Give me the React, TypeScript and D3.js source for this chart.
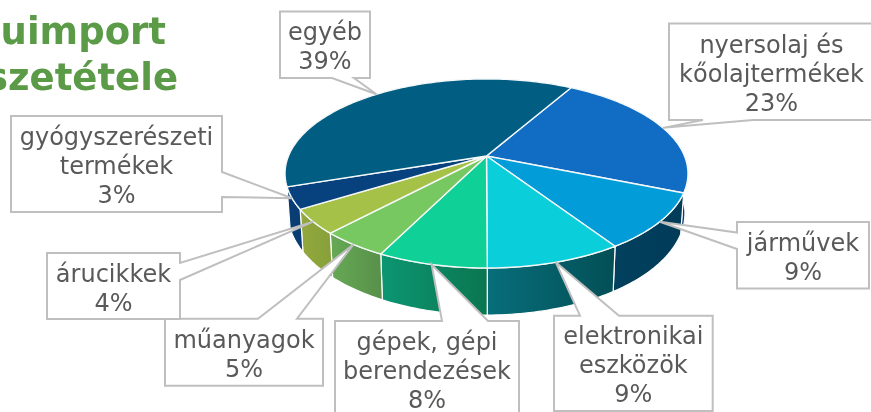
import React from "react";
import * as d3 from "d3";

// Data
const categories = ["nyersolaj és|kőolajtermékek", "járművek", "elektronikai|eszközök", "gépek, gépi|berendezések", "műanyagok", "árucikkek", "gyógyszerészeti|termékek", "egyéb"];
const shareEstimates = [22.9, 9.6, 9.2, 7.4, 4.6, 4.2, 3.7, 38.4];
const percentLabels = ["23%", "9%", "9%", "8%", "5%", "4%", "3%", "39%"];
const topColors = ["#116CC4", "#029DD8", "#0ACFDA", "#0FD096", "#78C862", "#A6C148", "#08427E", "#025D82"];
const wallFrom = ["#0A3F78", "#01405E", "#076E7A", "#0C9672", "#66A955", "#93A83E", "#0A3D74", "#003A58"];
const wallTo = ["#0A3F78", "#013C58", "#034F56", "#0A7650", "#58904A", "#87A03A", "#0A3D74", "#003A58"];
const titleLines = ["uimport", "szetétele"];

// Layout of the callouts: box edges, side of the pointer and its two foot positions
const calloutLayout = [
  { l: 669, t: 23.5, r: 874, b: 120, side: "bottom", a: 703, c: 753 },
  { l: 737, t: 222, r: 869, b: 288.5, side: "left", a: 232.5, c: 249 },
  { l: 554, t: 315.7, r: 712.7, b: 411, side: "top", a: 580, c: 619 },
  { l: 335, t: 321, r: 519, b: 417, side: "top", a: 442, c: 488 },
  { l: 165, t: 318.7, r: 323, b: 385.7, side: "top", a: 258, c: 297 },
  { l: 47, t: 253, r: 180, b: 319, side: "right", a: 263, c: 280 },
  { l: 11, t: 116, r: 222, b: 212, side: "right", a: 172, c: 197 },
  { l: 280, t: 11.5, r: 370, b: 78, side: "bottom", a: 332, c: 354 },
];

const W = 871, H = 412;
const CX = 486.5, CY = 156, R = 198, B = 91.3, K = 0.185, DEPTH = 38.3, SHRINK = 0.985;
const START = (29.7 * Math.PI) / 180;

function project(t: number, drop = 0): [number, number] {
  const x = Math.sin(t), y = -Math.cos(t), w = 1 - K * y;
  return [CX + ((R * x) / w) * (drop ? SHRINK : 1), CY + (B * y + drop) / w];
}

const line = d3.line();
const samples = (a: number, b: number) => {
  const n = Math.max(2, Math.ceil((b - a) / 0.02));
  return d3.range(n + 1).map((i) => a + ((b - a) * i) / n);
};

function calloutPath(c: (typeof calloutLayout)[number], tip: [number, number]) {
  const pts: [number, number][] = [[c.l, c.t]];
  pts.push([c.r, c.t]);
  if (c.side === "right") pts.push([c.r, c.a], tip, [c.r, c.c]);
  pts.push([c.r, c.b]);
  if (c.side === "bottom") pts.push([c.c, c.b], tip, [c.a, c.b]);
  pts.push([c.l, c.b]);
  if (c.side === "left") pts.push([c.l, c.c], tip, [c.l, c.a]);
  if (c.side === "top") {
    return line([[c.l, c.b], [c.l, c.t], [c.a, c.t], tip, [c.c, c.t], [c.r, c.t], [c.r, c.b]])! + "Z";
  }
  return line(pts)! + "Z";
}

export default function App() {
  const arcs = d3
    .pie<number>()
    .sort(null)
    .startAngle(START)
    .endAngle(START + 2 * Math.PI)(shareEstimates);
  const order = d3.range(arcs.length).sort((a, b) => (a === 7 ? -1 : b === 7 ? 1 : a - b));
  return (
    <svg width={W} height={H} viewBox={`0 0 ${W} ${H}`} style={{ position: "fixed", left: 0, top: 0, fontFamily: "'DejaVu Sans'" }}>
      <defs>
        {categories.map((_, i) => (
          <linearGradient key={i} id={`wall${i}`} x1="0" x2="1" y1="0" y2="0">
            <stop offset="0" stopColor={wallFrom[i]} />
            <stop offset="1" stopColor={wallTo[i]} />
          </linearGradient>
        ))}
      </defs>
      {titleLines.map((s, i) => (
        <text key={s} x={i === 0 ? 166 : 178} y={44 + i * 46} textAnchor="end" fontSize={37} fontWeight="bold" fill="#5B9A47">
          {s}
        </text>
      ))}
      {order.map((i) => {
        const a = arcs[i];
        const ts = samples(a.startAngle, a.endAngle);
        const d =
          line([...ts.map((t) => project(t)), ...ts.slice().reverse().map((t) => project(t, DEPTH))])! + "Z";
        return <path key={i} d={d} fill={`url(#wall${i})`} stroke="#fff" strokeWidth={1.2} strokeLinejoin="round" />;
      })}
      {arcs.map((a, i) => {
        const ts = samples(a.startAngle, a.endAngle);
        const d = line([[CX, CY], ...ts.map((t) => project(t))])! + "Z";
        return <path key={i} d={d} fill={topColors[i]} stroke="#F4F8F8" strokeWidth={1.4} strokeLinejoin="round" />;
      })}
      {arcs.map((a, i) => {
        const c = calloutLayout[i];
        const tip = project((a.startAngle + a.endAngle) / 2);
        const lines = [...categories[i].split("|"), percentLabels[i]];
        const mx = (c.l + c.r) / 2, my = (c.t + c.b) / 2;
        return (
          <g key={i}>
            <path d={calloutPath(c, tip)} fill="#fff" stroke="#BFBFBF" strokeWidth={2} strokeLinejoin="miter" />
            {lines.map((s, j) => (
              <text key={j} x={mx} y={my + 10 + (j - (lines.length - 1) / 2) * 29} textAnchor="middle" fontSize={24} fill="#595959">
                {s}
              </text>
            ))}
          </g>
        );
      })}
    </svg>
  );
}
